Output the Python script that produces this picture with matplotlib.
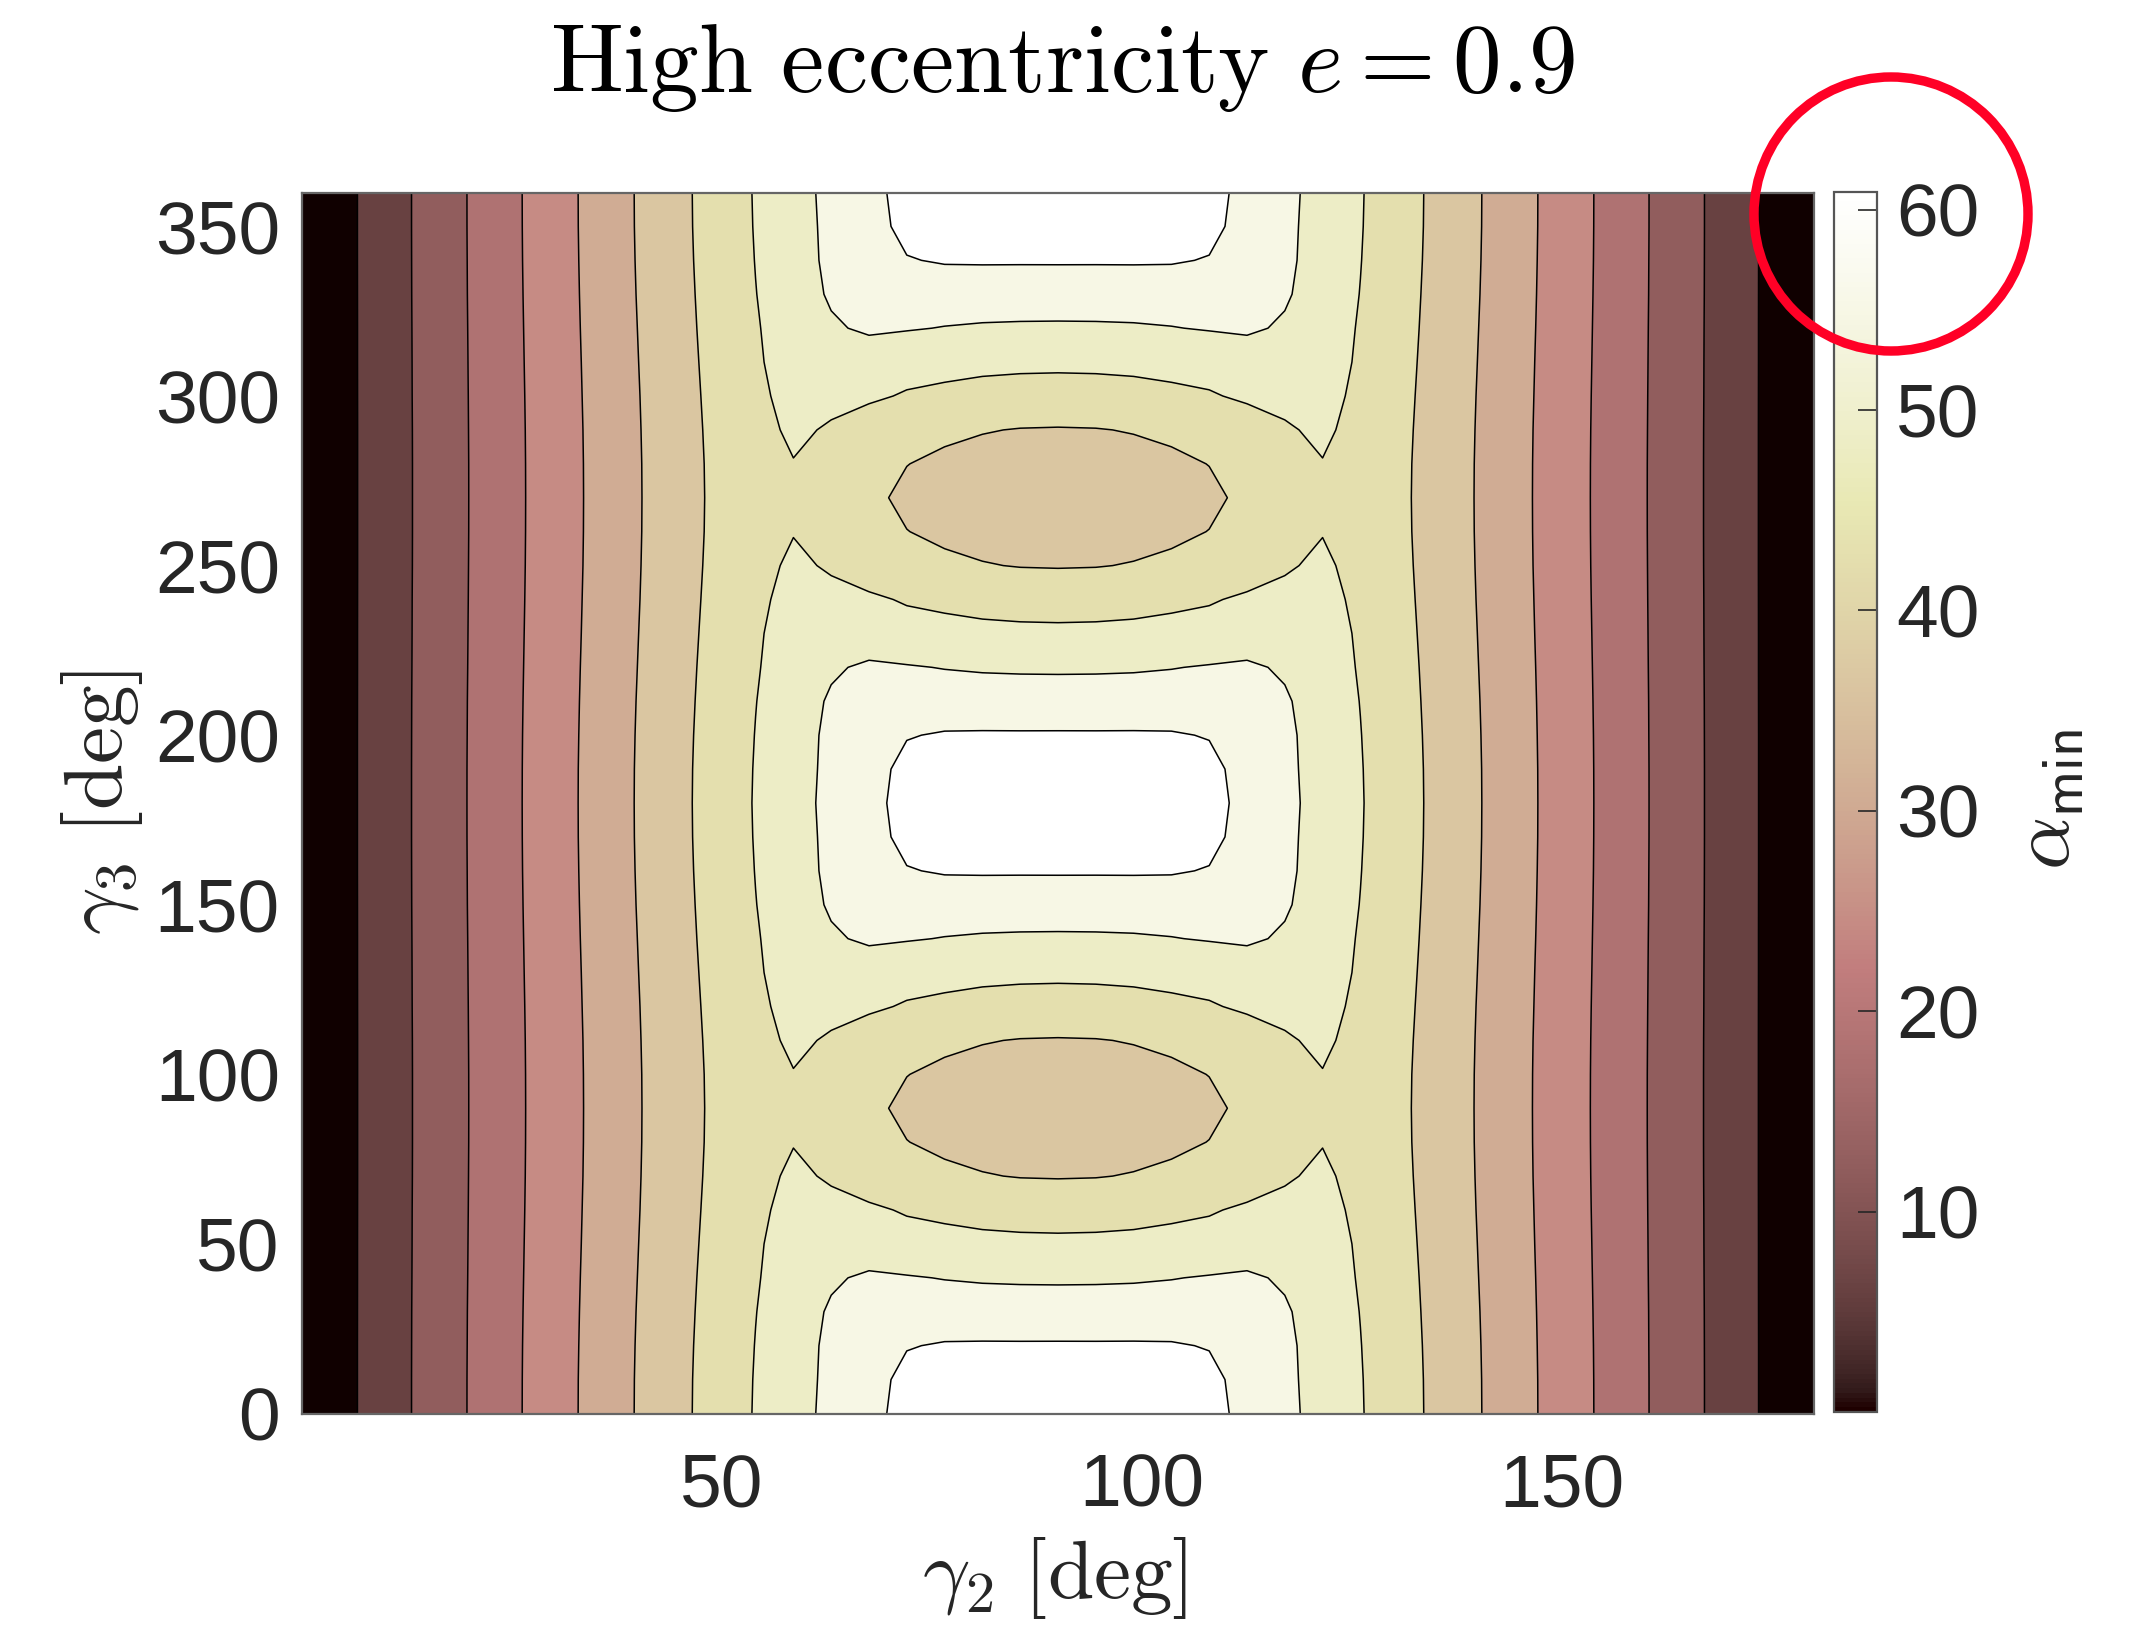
import numpy as np
import matplotlib
matplotlib.use('Agg')
from matplotlib import pyplot as plt
from matplotlib import cm, colors
from matplotlib.patches import Ellipse

plt.rcParams['mathtext.fontset'] = 'cm'
plt.rcParams['font.family'] = ['Liberation Sans', 'DejaVu Sans']

# grid (one quadrant, the rest is mirrored)
gamma2_half = [0, 4.5, 9, 13.5, 18, 22.5, 27, 31.5, 36, 40.5, 45,
               49.5, 54, 58.5, 63, 67.5, 72, 76.5, 81, 85.5, 90]
gamma3_half = [0, 10, 20, 30, 40, 50, 60, 70, 80, 90]

alpha_half = [
    [0, 3.75, 7.58, 11.47, 15.23, 19.02, 22.81, 26.54, 30.28, 34.01, 37.61, 41.14, 44.63, 47.97, 51.11, 54.00, 56.90, 58.80, 60.00, 60.70, 60.90],
    [0, 3.75, 7.58, 11.47, 15.23, 19.01, 22.80, 26.53, 30.26, 33.99, 37.58, 41.10, 44.55, 47.85, 50.95, 53.50, 56.70, 57.60, 58.20, 58.40, 58.50],
    [0, 3.75, 7.58, 11.46, 15.21, 18.99, 22.77, 26.48, 30.21, 33.92, 37.49, 41.00, 44.40, 47.80, 50.80, 52.90, 55.12, 55.75, 55.80, 55.80, 55.80],
    [0, 3.75, 7.57, 11.45, 15.20, 18.96, 22.72, 26.42, 30.13, 33.82, 37.36, 40.85, 44.20, 47.00, 50.50, 51.80, 52.50, 52.50, 52.54, 52.40, 52.46],
    [0, 3.75, 7.56, 11.43, 15.17, 18.92, 22.66, 26.35, 30.02, 33.69, 37.19, 40.70, 43.93, 46.60, 49.12, 50.71, 50.16, 49.66, 49.31, 49.19, 49.13],
    [0, 3.75, 7.56, 11.41, 15.15, 18.88, 22.60, 26.26, 29.92, 33.56, 37.02, 40.50, 43.74, 46.20, 47.30, 46.50, 46.00, 45.90, 45.74, 45.48, 45.42],
    [0, 3.75, 7.55, 11.40, 15.13, 18.84, 22.54, 26.19, 29.82, 33.43, 36.85, 40.30, 43.28, 45.80, 45.60, 44.97, 43.91, 43.20, 42.31, 42.00, 41.85],
    [0, 3.75, 7.54, 11.38, 15.11, 18.81, 22.49, 26.12, 29.73, 33.33, 36.72, 40.10, 42.60, 45.20, 43.74, 42.00, 41.20, 39.80, 38.97, 38.58, 38.48],
    [0, 3.75, 7.54, 11.37, 15.09, 18.79, 22.46, 26.08, 29.68, 33.26, 36.63, 39.95, 42.30, 44.10, 42.90, 40.60, 38.85, 37.70, 37.30, 37.00, 36.80],
    [0, 3.75, 7.54, 11.37, 15.09, 18.78, 22.45, 26.07, 29.66, 33.24, 36.60, 39.90, 42.10, 43.90, 42.60, 40.00, 37.60, 36.80, 36.50, 36.30, 36.20],
]

x_ticks = [50, 100, 150]
y_ticks = [0, 50, 100, 150, 200, 250, 300, 350]
cbar_ticks = [10, 20, 30, 40, 50, 60]
n_levels = 10

# mirror about gamma2 = 90 and gamma3 = 90, then repeat every 180 deg
g2 = np.array(gamma2_half + [180 - g for g in gamma2_half[-2::-1]])
rows = [r + r[-2::-1] for r in alpha_half]
block = rows + rows[-2::-1]
Z = np.array(block + block[1:])
g3_block = gamma3_half + [180 - g for g in gamma3_half[-2::-1]]
g3 = np.array(g3_block + [180 + g for g in g3_block[1:]])
G2, G3 = np.meshgrid(g2, g3)

zmin, zmax = Z.min(), Z.max()
levels = np.linspace(zmin, zmax, n_levels + 2)
pink = plt.get_cmap('pink')
band_colors = [pink(k / n_levels) for k in range(n_levels + 1)]
band_colors[0] = '#100000'

fig = plt.figure(figsize=(2131 / 200, 1625 / 200), dpi=200)
ax = fig.add_axes([302 / 2131, 1 - 1413.5 / 1625, 1512 / 2131, 1221 / 1625])
ax.contourf(G2, G3, Z, levels=levels, colors=band_colors, antialiased=True)
ax.contour(G2, G3, Z, levels=levels[1:-1], colors='k', linewidths=0.55)
ax.set_xlim(0, 180)
ax.set_ylim(0, 360)
ax.set_xticks(x_ticks)
ax.set_yticks(y_ticks)
ax.tick_params(length=0, labelsize=27, colors='#262626')
ax.tick_params(axis='x', pad=14)
ax.tick_params(axis='y', pad=8)
for s in ax.spines.values():
    s.set_color('#666666')
    s.set_linewidth(0.8)

cax = fig.add_axes([1834.3 / 2131, 1 - 1412 / 1625, 42.4 / 2131, 1220.5 / 1625])
sm = cm.ScalarMappable(norm=colors.Normalize(zmin, zmax), cmap=pink)
cb = fig.colorbar(sm, cax=cax, ticks=cbar_ticks)
cb.outline.set_edgecolor('#555555')
cb.outline.set_linewidth(0.8)
cax.tick_params(direction='in', length=7, width=0.6, labelsize=27,
                colors='#262626', pad=7)

fig.text(0.4985, 1 - 92 / 1625, r'$\mathrm{High\ eccentricity}\ e = 0.9$',
         ha='center', va='baseline', fontsize=35)
fig.text(0.495, 0.029, r'$\gamma_2\ [\mathrm{deg}]$', ha='center',
         va='center', fontsize=30, color='#262626')
fig.text(0.048, 0.5065, r'$\gamma_3\ [\mathrm{deg}]$', ha='center',
         va='center', fontsize=30, rotation=90, color='#262626')
fig.text(0.961, 0.508, r'$\alpha_{\mathsf{min}}$', ha='center',
         va='center', fontsize=30, rotation=90, color='#262626')

# red ring drawn over the top of the colour bar
ring = Ellipse((1891 / 2131, 1 - 214 / 1625), 2 * 137 / 2131, 2 * 137 / 1625,
               transform=fig.transFigure, fill=False, edgecolor='#ff0026',
               linewidth=3.4, zorder=10)
fig.add_artist(ring)

fig.savefig('out.png', dpi=200)
